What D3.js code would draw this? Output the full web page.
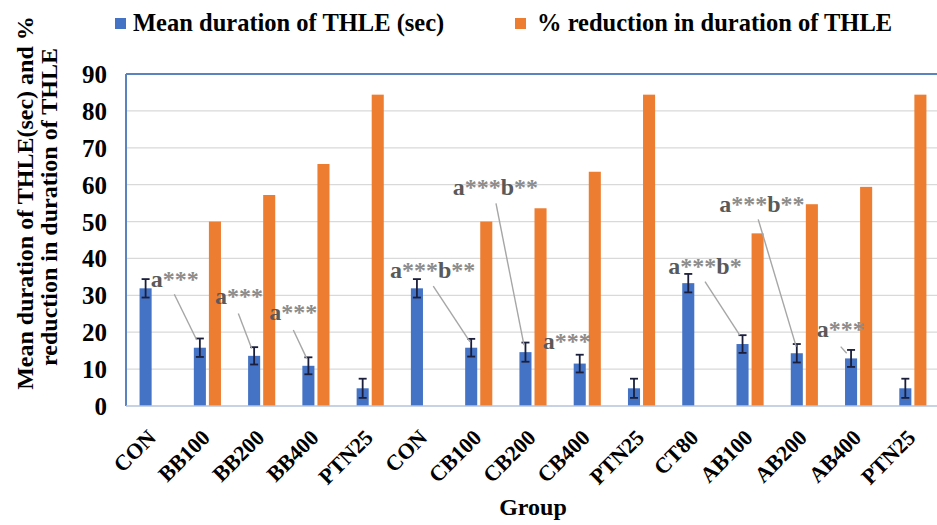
<!DOCTYPE html>
<html><head><meta charset="utf-8">
<script src="https://cdn.jsdelivr.net/npm/d3@7"></script>
</head><body style="margin:0;background:#fff"><svg id="c" width="937" height="525" font-family="Liberation Serif" font-weight="bold" style="display:block"></svg>
<script>
// ---------- data ----------
const categories = ["CON","BB100","BB200","BB400","PTN25","CON","CB100","CB200","CB400","PTN25","CT80","AB100","AB200","AB400","PTN25"];
const meanDuration = [31.9,15.8,13.6,10.9,4.8,31.9,15.8,14.6,11.5,4.8,33.3,16.8,14.3,12.9,4.8];
const meanError    = [2.5,2.5,2.35,2.3,2.6,2.5,2.4,2.6,2.4,2.6,2.5,2.4,2.5,2.3,2.6];
const pctReduction = [null,50.0,57.2,65.6,84.4,null,50.0,53.6,63.5,84.4,null,46.8,54.7,59.4,84.4];
const seriesNames = ["Mean duration of THLE (sec)","% reduction in duration of THLE"];
const yTicks = [0,10,20,30,40,50,60,70,80,90];
const annotLabels = ["a***","a***","a***","a***b**","a***b**","a***","a***b*","a***b**","a***"];
const yTitleLines = ["Mean duration of THLE(sec) and %","reduction in duration of THLE"];
const xTitle = "Group";

// ---------- layout (positions in category-units / value-units) ----------
const annotLayout = [
  {t:[0.455,32.3], l:[[0.89,30.3],[1.303,17.9]]},
  {t:[1.64,27.6],  l:[[2.07,25.1],[2.316,15.6]]},
  {t:[2.64,23.3],  l:[[3.083,20.6],[3.33,12.9]]},
  {t:[4.865,34.6], l:[[5.662,32.5],[6.339,17.4]]},
  {t:[6.02,57.2],  l:[[6.818,54.9],[7.334,16.5]]},
  {t:[7.678,15.4], l:null},
  {t:[9.993,35.8], l:[[10.67,33.7],[11.31,19.2]]},
  {t:[10.93,52.7], l:[[11.65,50.6],[12.35,16.1]]},
  {t:[12.73,18.6], l:[[13.17,16.1],[13.28,14.3]]}
];

const FONT="Liberation Serif";
const BLUE="#4472c4", ORANGE="#ed7d31";
const svg = d3.select("#c");
const pL=126, pR=940, pT=74, pB=406;

const x0 = d3.scaleBand().domain(d3.range(categories.length)).range([pL,pR])
  .paddingInner(0.5).paddingOuter(0.25);
const x1 = d3.scaleBand().domain([0,1]).range([0,x0.bandwidth()]).paddingInner(0.2);
const xf = d3.scaleLinear().domain([0,categories.length]).range([pL,pR]);
const y = d3.scaleLinear().domain([0,90]).range([pB,pT]);

// gridlines
svg.append("g").selectAll("line").data(yTicks.filter(d=>d>0)).join("line")
  .attr("x1",pL).attr("x2",pR).attr("y1",d=>y(d)).attr("y2",d=>y(d))
  .attr("stroke","#d9d9d9").attr("stroke-width",1.3);

// y axis labels
const yAxis = d3.axisLeft(y).tickValues(yTicks).tickSize(0).tickPadding(19);
const ga = svg.append("g").attr("transform",`translate(${pL},0)`).call(yAxis)
  .attr("font-family",FONT).attr("font-size",25).attr("font-weight","bold");
ga.select(".domain").remove();
ga.selectAll("text").attr("fill","#000").attr("dy","0.34em");

// bars: percent reduction
svg.append("g").selectAll("rect").data(pctReduction.map((v,i)=>({v,i})).filter(d=>d.v!=null)).join("rect")
  .attr("x",d=>x0(d.i)+x1(1)).attr("width",x1.bandwidth())
  .attr("y",d=>y(d.v)).attr("height",d=>y(0)-y(d.v)).attr("fill",ORANGE);
// bars: mean duration
svg.append("g").selectAll("rect").data(meanDuration.map((v,i)=>({v,i}))).join("rect")
  .attr("x",d=>x0(d.i)+x1(0)).attr("width",x1.bandwidth())
  .attr("y",d=>y(d.v)).attr("height",d=>y(0)-y(d.v)).attr("fill",BLUE);

// error bars
const eb = svg.append("g").attr("stroke","#1b1f3b").attr("stroke-width",1.8);
meanDuration.forEach((v,i)=>{
  const cx = x0(i)+x1(0)+x1.bandwidth()/2, e=meanError[i];
  eb.append("line").attr("x1",cx).attr("x2",cx).attr("y1",y(v+e)).attr("y2",y(v-e));
  eb.append("line").attr("x1",cx-4).attr("x2",cx+4).attr("y1",y(v+e)).attr("y2",y(v+e));
  eb.append("line").attr("x1",cx-4).attr("x2",cx+4).attr("y1",y(v-e)).attr("y2",y(v-e));
});

// plot frame
svg.append("line").attr("x1",pL).attr("x2",pR).attr("y1",pT).attr("y2",pT).attr("stroke","#5b84bf").attr("stroke-width",2);
svg.append("line").attr("x1",pL).attr("x2",pL).attr("y1",pT).attr("y2",pB).attr("stroke","#5b84bf").attr("stroke-width",2);
svg.append("line").attr("x1",pL).attr("x2",pR).attr("y1",pB).attr("y2",pB).attr("stroke","#b4c4dc").attr("stroke-width",1.5);

// annotations
const ag = svg.append("g");
annotLabels.forEach((lab,k)=>{
  const L = annotLayout[k];
  if(L.l){
    ag.append("line").attr("x1",xf(L.l[0][0])).attr("y1",y(L.l[0][1]))
      .attr("x2",xf(L.l[1][0])).attr("y2",y(L.l[1][1]))
      .attr("stroke","#a6a6a6").attr("stroke-width",1.4);
  }
  const t = ag.append("text").attr("x",xf(L.t[0])).attr("y",y(L.t[1])).attr("font-size",24);
  lab.split(/(\*+)/).filter(s=>s.length).forEach(s=>{
    t.append("tspan").text(s).attr("fill", s[0]==="*" ? "#8c8c8c" : "#595959");
  });
});

// x labels
const xg = svg.append("g");
categories.forEach((c,i)=>{
  const cx = x0(i)+x0.bandwidth()/2 + 4;
  xg.append("text").attr("transform",`translate(${cx},439) rotate(-45)`)
    .attr("text-anchor","end").attr("font-size",22).attr("fill","#000").text(c);
});

// x title
svg.append("text").attr("x",533).attr("y",515).attr("text-anchor","middle")
  .attr("font-size",24).attr("fill","#000").text(xTitle);

// y title
const yt = svg.append("text").attr("transform","translate(33,203) rotate(-90)")
  .attr("text-anchor","middle").attr("font-size",24).attr("fill","#000");
yt.append("tspan").attr("x",0).attr("y",0).text(yTitleLines[0]);
yt.append("tspan").attr("x",-4).attr("y",24).text(yTitleLines[1]);

// legend
const lg = svg.append("g");
const legX = [115,515];
[BLUE,ORANGE].forEach((col,i)=>{
  lg.append("rect").attr("x",legX[i]).attr("y",18).attr("width",11).attr("height",11).attr("fill",col);
  lg.append("text").attr("x",legX[i]+(i===0?18:22)).attr("y",31).attr("font-size",24.5)
    .attr("fill","#000").text(seriesNames[i]);
});
</script></body></html>
